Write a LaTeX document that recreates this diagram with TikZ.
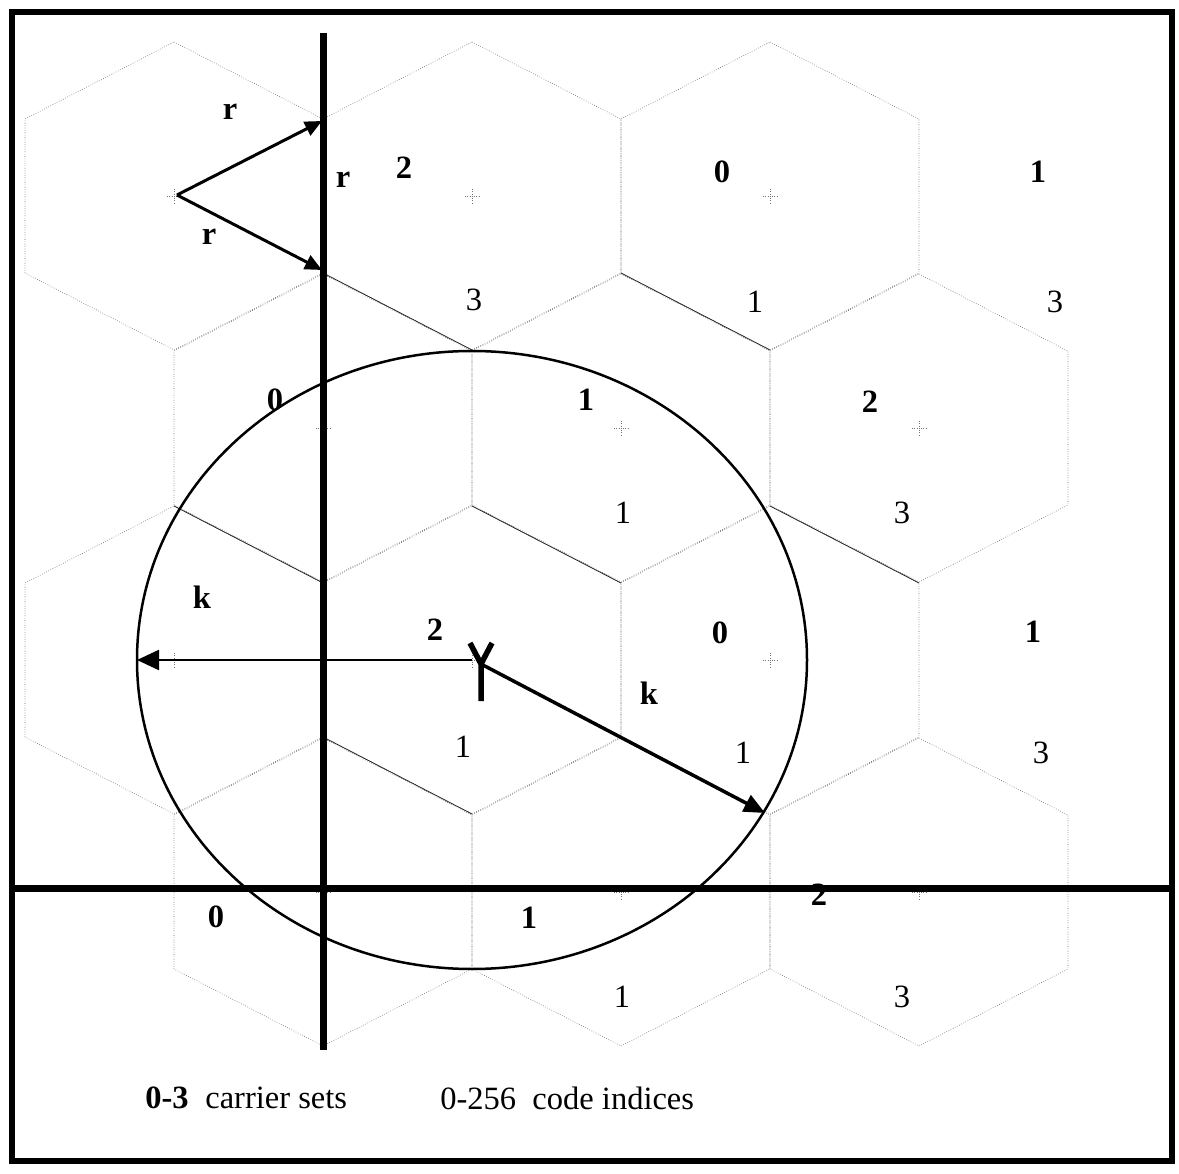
\documentclass[tikz,border=0pt]{standalone}
\usepackage{fontspec}
\setmainfont{Liberation Serif}
\usetikzlibrary{arrows.meta}

\begin{document}
\begin{tikzpicture}[x=0.2mm,y=-0.2mm,
    hexedge/.style={draw=black!60,line width=0.35pt,densely dotted},
    hexsolid/.style={draw=black!85,line width=0.45pt},
    centremark/.style={draw=black!55,line width=0.3pt,densely dotted},
    axisline/.style={line width=1.4mm},
    rvec/.style={line width=0.6mm,-{Triangle[length=3.4mm,width=3mm]}},
    setno/.style={font=\fontsize{18.5}{22}\selectfont\bfseries,inner sep=0pt},
    codeno/.style={font=\fontsize{18.5}{22}\selectfont,inner sep=0pt}]

  \useasboundingbox (0,0) rectangle (1179,1174);
  \draw[line width=1.1mm] (12,12) rectangle (1172,1161);

  % cells
  \foreach \cx/\cy in {174/196,472/196,770/196,323/428,621/428,919/428,
                       174/660,472/660,770/660,323/892,621/892,919/892}{
    \draw[hexedge] (\cx,\cy) ++(0,-154) -- ++(149,77) -- ++(0,154) -- ++(-149,77)
      -- ++(-149,-77) -- ++(0,-154) -- cycle;
    \draw[centremark] (\cx-7,\cy) -- (\cx+7,\cy) (\cx,\cy-7) -- (\cx,\cy+7);
  }
  \foreach \ax/\ay in {323/273,621/273,174/506,472/506,770/506,323/737}
    \draw[hexsolid] (\ax,\ay) -- ++(149,77);

  % axes
  \draw[axisline] (323,33) -- (323,1050);
  \draw[axisline] (12,888) -- (1172,888);

  % coverage
  \coordinate (hub) at (472,660);
  \draw[line width=0.5mm] (hub) ellipse [x radius=335, y radius=309];

  % cell radius
  \coordinate (cellc) at (177,195);
  \coordinate (rtop) at (322,121);
  \coordinate (rbot) at (322,270);
  \draw[rvec] (cellc) -- (rtop);
  \draw[rvec] (cellc) -- (rbot);

  % reuse distance
  \coordinate (kleft) at (137,660);
  \coordinate (ant) at (481,664);
  \coordinate (kend) at (765,813);
  \draw[line width=0.45mm,-{Triangle[length=4.4mm,width=4mm]}] (hub) -- (kleft);
  \draw[line width=0.7mm,-{Triangle[length=4.2mm,width=3.6mm]}] (ant) -- (kend);
  \draw[line width=1.1mm] (ant) ++(-11,-21) -- (ant) -- ++(11,-21)
    (ant) -- ++(0,37);

  % labels
  \foreach \n/\x/\y/\t in {a/230/112/r,b/343/180/r,c/209/237/r,d/404/168/2,
      e/722/172/0,f/1038/172/1,g/275/400/0,h/586/400/1,i/870/402/2,
      j/202/597/k,l/435/630/2,m/720/633/0,n/1033/632/1,o/649/693/k,
      p/216/917/0,q/529/918/1,s/819/895/2}
    \node[setno] (b\n) at (\x,\y) {\t};
  \foreach \n/\x/\y/\t in {a/474/300/3,b/755/302/1,c/1055/302/3,d/623/513/1,
      e/902/513/3,f/463/747/1,g/743/753/1,h/1041/753/3,i/622/997/1,j/902/997/3}
    \node[codeno] (c\n) at (\x,\y) {\t};

  % legend
  \node[setno,anchor=west] (legset) at (145,1098) {0-3};
  \node[codeno,anchor=west] (legsettxt) at (205,1098) {carrier sets};
  \node[codeno,anchor=west] (legcode) at (440,1098) {0-256\ \ code indices};
\end{tikzpicture}
\end{document}
